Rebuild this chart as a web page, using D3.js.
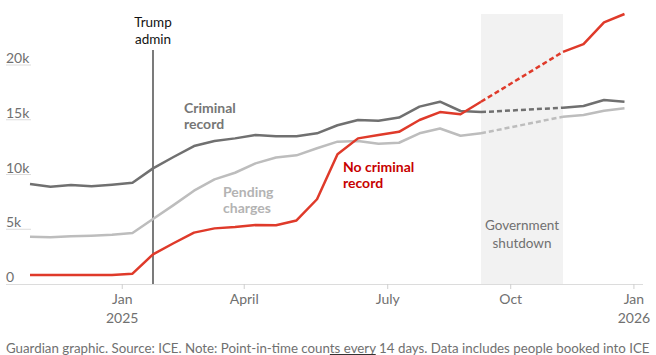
<!DOCTYPE html>
<html>
<head>
<meta charset="utf-8">
<script src="https://cdn.jsdelivr.net/npm/d3@7"></script>
<style>
  html, body { margin: 0; padding: 0; background: #fff; }
  svg { display: block; font-family: Lato, "Open Sans", sans-serif; }
</style>
</head>
<body>
<svg id="chart" width="656" height="355"></svg>
<script>
// ---- data (counts in thousands, one point every 14 days; null = no data) ----
const periods = d3.range(30);
const noCriminal = [0.82,0.82,0.82,0.82,0.82,0.94,2.71,3.72,4.69,5.08,5.2,5.39,5.36,5.8,7.74,11.84,13.3,13.6,13.9,14.98,15.7,15.5,16.64,null,null,null,21.2,21.9,23.9,24.66];
const criminal   = [9.13,8.89,9.04,8.92,9.07,9.25,10.56,11.6,12.6,13.06,13.3,13.6,13.5,13.5,13.76,14.5,14.98,14.9,15.2,16.2,16.65,15.8,15.7,null,null,null,16.1,16.25,16.8,16.65];
const pending    = [4.32,4.26,4.35,4.41,4.5,4.66,5.94,7.2,8.52,9.56,10.16,11.02,11.55,11.75,12.4,13.0,13.06,12.8,12.9,13.76,14.2,13.54,13.76,null,null,null,15.28,15.43,15.83,16.04];

const yTicks = [0, 5, 10, 15, 20];
const yTickLabels = ["0", "5k", "10k", "15k", "20k"];
const xTickPeriods = [4.5, 10.45, 17.45, 23.45, 29.46];
const xTickLabels = ["Jan", "April", "July", "Oct", "Jan"];
const xTickYears = ["2025", "", "", "", "2026"];
const trumpPeriod = 6;
const shutdownPeriods = [22, 26];
const footerText = "Guardian graphic. Source: ICE. Note: Point-in-time counts every 14 days. Data includes people booked into ICE";

// ---- layout ----
const svg = d3.select("#chart");
const x = d3.scaleLinear().domain([0, 29]).range([30, 624.5]);
const y = d3.scaleLinear().domain([0, 20]).range([284, 65]);

const grey = "#707070";

// shutdown band
svg.append("rect")
  .attr("x", x(shutdownPeriods[0]))
  .attr("width", x(shutdownPeriods[1]) - x(shutdownPeriods[0]))
  .attr("y", 14)
  .attr("height", y(0) - 14)
  .attr("fill", "#f2f2f2");

svg.append("text")
  .attr("text-anchor", "middle")
  .attr("fill", grey)
  .style("font-size", "13.5px")
  .selectAll("tspan").data(["Government", "shutdown"]).join("tspan")
  .attr("x", (x(shutdownPeriods[0]) + x(shutdownPeriods[1])) / 2)
  .attr("y", (d, i) => 230 + i * 17.5)
  .text(d => d);

// y gridlines (short) and labels
const yg = svg.append("g");
yTicks.forEach((t, i) => {
  if (t !== 0) {
    yg.append("line").attr("x1", 6).attr("x2", 31)
      .attr("y1", y(t)).attr("y2", y(t))
      .attr("stroke", "#dcdcdc").attr("stroke-width", 1);
  }
  yg.append("text").attr("x", 6).attr("y", y(t) - 2)
    .attr("fill", grey).style("font-size", "14px")
    .text(yTickLabels[i]);
});

// baseline
svg.append("line").attr("x1", 6).attr("x2", 643)
  .attr("y1", y(0) + 0.5).attr("y2", y(0) + 0.5)
  .attr("stroke", "#dcdcdc").attr("stroke-width", 1);

// x ticks
const xg = svg.append("g");
xTickPeriods.forEach((p, i) => {
  xg.append("line").attr("x1", x(p)).attr("x2", x(p))
    .attr("y1", y(0)).attr("y2", y(0) + 5)
    .attr("stroke", "#cfcfcf").attr("stroke-width", 1);
  xg.append("text").attr("x", x(p)).attr("y", 304)
    .attr("text-anchor", "middle").attr("fill", grey)
    .style("font-size", "14px").text(xTickLabels[i]);
  if (xTickYears[i]) {
    xg.append("text").attr("x", x(p)).attr("y", 323)
      .attr("text-anchor", "middle").attr("fill", grey)
      .style("font-size", "14px").text(xTickYears[i]);
  }
});

// Trump admin marker
svg.append("line")
  .attr("x1", x(trumpPeriod)).attr("x2", x(trumpPeriod))
  .attr("y1", 50).attr("y2", y(0))
  .attr("stroke", "#333").attr("stroke-width", 1.3);
svg.append("text").attr("text-anchor", "middle").attr("fill", "#121212")
  .style("font-size", "13.5px")
  .selectAll("tspan").data(["Trump", "admin"]).join("tspan")
  .attr("x", x(trumpPeriod)).attr("y", (d, i) => 27 + i * 17)
  .text(d => d);

// lines
const series = [
  { values: pending, color: "#bdbdbd" },
  { values: criminal, color: "#707070" },
  { values: noCriminal, color: "#df3a2a" }
];
const line = d3.line()
  .defined(d => d.v !== null)
  .x(d => x(d.p)).y(d => y(d.v));

series.forEach(s => {
  const pts = periods.map((p, i) => ({ p, v: s.values[i] }));
  svg.append("path").datum(pts)
    .attr("d", line)
    .attr("fill", "none").attr("stroke", s.color)
    .attr("stroke-width", 2.5).attr("stroke-linejoin", "round");
  // dashed bridge across missing data
  const gap = [pts[shutdownPeriods[0]], pts[shutdownPeriods[1]]];
  svg.append("path").datum(gap)
    .attr("d", line)
    .attr("fill", "none").attr("stroke", s.color)
    .attr("stroke-width", 2.5).attr("stroke-dasharray", "5,3");
});

// series labels
function label(lines, xPos, yPos, color) {
  svg.append("text").attr("fill", color)
    .style("font-size", "14px").style("font-weight", "bold")
    .selectAll("tspan").data(lines).join("tspan")
    .attr("x", xPos).attr("y", (d, i) => yPos + i * 16)
    .text(d => d);
}
label(["Criminal", "record"], 184, 113, "#767676");
label(["Pending", "charges"], 223, 196.5, "#b3b3b3");
label(["No criminal", "record"], 343, 172, "#c70000");

// footer
const foot = svg.append("text").attr("x", 6).attr("y", 352.5)
  .attr("fill", grey).style("font-size", "13.3px")
  .text(footerText);
// small underline beneath part of "counts every"
const fnode = foot.node();
const i0 = footerText.indexOf("counts every") + 4;
const i1 = footerText.indexOf("counts every") + 11;
const ux0 = fnode.getStartPositionOfChar(i0).x;
const ux1 = fnode.getEndPositionOfChar(i1).x;
svg.append("line").attr("x1", ux0).attr("x2", ux1)
  .attr("y1", 354.5).attr("y2", 354.5)
  .attr("stroke", "#333").attr("stroke-width", 1);
</script>
</body>
</html>
